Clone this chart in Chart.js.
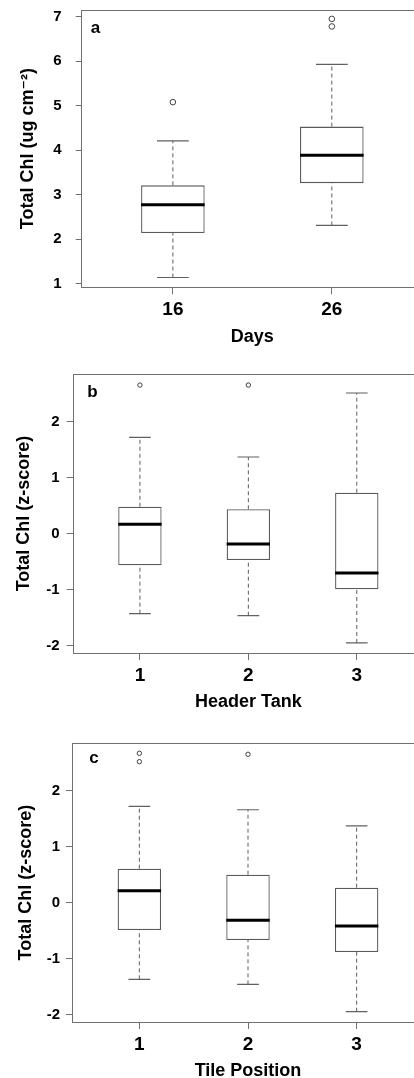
<!DOCTYPE html>
<html>
<head>
<meta charset="utf-8">
<script src="https://cdn.jsdelivr.net/npm/chart.js@4.4.1/dist/chart.umd.min.js"></script>
<style>
  html, body { margin: 0; padding: 0; background: #fff; overflow: hidden; width: 414px; height: 1078px; }
  .panel { position: absolute; left: 0; }
  canvas { display: block; }
</style>
</head>
<body>
<div class="panel" style="top:0px"><canvas id="chartDays" width="430" height="348"></canvas></div>
<div class="panel" style="top:360px"><canvas id="chartTank" width="430" height="354"></canvas></div>
<div class="panel" style="top:729px"><canvas id="chartTile" width="430" height="354"></canvas></div>
<script>
// ---- Panel a: total chlorophyll by day of sampling ----
const daysLabels   = ['16', '26'];
const daysLow      = [1.14, 2.31];
const daysQ1       = [2.14, 3.26];
const daysMedian   = [2.775, 3.885];
const daysQ3       = [3.21, 4.53];
const daysHigh     = [4.21, 5.93];
const daysOutliers = [[5.08], [6.78, 6.95]];
const daysYTicks   = [1, 2, 3, 4, 5, 6, 7];
const daysYRange   = [0.92, 7.15];

// ---- Panel b: z-scored total chlorophyll by header tank ----
const tankLabels   = ['1', '2', '3'];
const tankLow      = [-1.426, -1.462, -1.948];
const tankQ1       = [-0.563, -0.469, -0.991];
const tankMedian   = [0.167, -0.184, -0.70];
const tankQ3       = [0.48, 0.435, 0.731];
const tankHigh     = [1.718, 1.367, 2.508];
const tankOutliers = [[2.65], [2.65], []];
const tankYRange   = [-2.127, 2.847];

// ---- Panel c: z-scored total chlorophyll by tile position ----
const tileLabels   = ['1', '2', '3'];
const tileLow      = [-1.368, -1.457, -1.946];
const tileQ1       = [-0.4875, -0.666, -0.88];
const tileMedian   = [0.214, -0.314, -0.416];
const tileQ3       = [0.607, 0.5, 0.268];
const tileHigh     = [1.72, 1.66, 1.37];
const tileOutliers = [[2.668, 2.518], [2.65], []];
const tileYRange   = [-2.13, 2.846];

const zTicks = [-2, -1, 0, 1, 2];

const FONT = "'Liberation Sans', Arial, Helvetica, 'DejaVu Sans', sans-serif";
const FRAME = '#707070';
const BOX_HALF = 0.2;   // half box width in category units
const CAP_HALF = 0.1;   // half whisker-cap width

// Frame around the plotting region and the panel letter
const framePlugin = {
  id: 'panelFrame',
  afterDraw(chart, args, opts) {
    const { ctx, chartArea: a } = chart;
    ctx.save();
    ctx.strokeStyle = FRAME;
    ctx.lineWidth = 1;
    const l = Math.round(a.left) + 0.5, t = Math.round(a.top) + 0.5;
    const r = Math.round(a.right) + 0.5, b = Math.round(a.bottom) + 0.5;
    ctx.strokeRect(l, t, r - l, b - t);
    ctx.fillStyle = '#000';
    ctx.font = 'bold 17px ' + FONT;
    ctx.textAlign = 'left';
    ctx.textBaseline = 'alphabetic';
    ctx.fillText(opts.letter, a.left + opts.dx, a.top + opts.dy);
    ctx.restore();
  }
};

function buildBoxplot(canvasId, s, st) {
  const n = s.labels.length;
  const whiskers = [], caps = [], medians = [], boxes = [], outliers = [];
  for (let i = 0; i < n; i++) {
    const x = i + 1;
    whiskers.push({ x, y: s.low[i] }, { x, y: s.q1[i] }, { x, y: null },
                  { x, y: s.q3[i] }, { x, y: s.high[i] }, { x, y: null });
    caps.push({ x: x - CAP_HALF, y: s.low[i] }, { x: x + CAP_HALF, y: s.low[i] }, { x, y: null },
              { x: x - CAP_HALF, y: s.high[i] }, { x: x + CAP_HALF, y: s.high[i] }, { x, y: null });
    medians.push({ x: x - BOX_HALF, y: s.median[i] }, { x: x + BOX_HALF, y: s.median[i] }, { x, y: null });
    boxes.push({ x, y: [s.q1[i], s.q3[i]] });
    s.outliers[i].forEach(v => outliers.push({ x, y: v }));
  }

  const pad = 0.04 * n;  // 4% axis extension beyond the half-category margins
  const xMin = 0.5 - pad, xMax = n + 0.5 + pad;

  return new Chart(document.getElementById(canvasId), {
    type: 'bar',
    data: {
      datasets: [
        { type: 'line', data: whiskers, borderColor: '#5e5e5e', borderWidth: 1, borderDash: [4, 3],
          pointRadius: 0, fill: false, tension: 0, spanGaps: false, order: 4 },
        { type: 'bar', data: boxes, backgroundColor: '#ffffff', borderColor: '#5a5a5a', borderWidth: 1.3,
          borderSkipped: false, categoryPercentage: 0.8, barPercentage: 2 * BOX_HALF / 0.8, order: 3 },
        { type: 'line', data: caps, borderColor: '#606060', borderWidth: 1.2,
          pointRadius: 0, fill: false, tension: 0, spanGaps: false, order: 2 },
        { type: 'line', data: medians, borderColor: '#000000', borderWidth: 3, borderCapStyle: 'butt',
          pointRadius: 0, fill: false, tension: 0, spanGaps: false, order: 1 },
        { type: 'line', data: outliers, showLine: false, pointStyle: 'circle', pointRadius: st.outR,
          pointBorderColor: '#404040', pointBackgroundColor: 'rgba(0,0,0,0)', pointBorderWidth: 1, order: 0 }
      ]
    },
    options: {
      responsive: false,
      animation: false,
      events: [],
      layout: { padding: { top: st.padTop, right: 6, left: 0, bottom: 0 } },
      plugins: {
        legend: { display: false },
        tooltip: { enabled: false },
        panelFrame: { letter: st.letter, dx: st.letterAt[0], dy: st.letterAt[1] }
      },
      scales: {
        x: {
          type: 'linear', offset: false, min: xMin, max: xMax,
          afterBuildTicks: sc => { sc.ticks = s.labels.map((_, i) => ({ value: i + 1 })); },
          afterFit: sc => { sc.height = st.xHeight; sc.paddingLeft = 0; sc.paddingRight = 0; },
          ticks: {
            callback: v => s.labels[Math.round(v) - 1],
            color: '#000', padding: st.xTickPad, maxRotation: 0, autoSkip: false,
            font: { family: FONT, size: 19, weight: 'bold' }
          },
          grid: { display: true, offset: false, drawOnChartArea: false, drawTicks: true,
                  tickLength: 7, color: FRAME, lineWidth: 1 },
          border: { display: false },
          title: { display: true, text: st.xTitle, color: '#000',
                   font: { family: FONT, size: 18, weight: 'bold' },
                   padding: { top: 0, bottom: st.xTitlePad } }
        },
        y: {
          type: 'linear', min: s.yRange[0], max: s.yRange[1],
          afterBuildTicks: sc => { sc.ticks = s.yTicks.map(v => ({ value: v })); },
          afterFit: sc => { sc.width = st.yWidth; sc.paddingTop = 0; sc.paddingBottom = 0; },
          ticks: {
            callback: v => String(v),
            color: '#000', padding: st.yTickPad,
            font: { family: FONT, size: 15, weight: 'bold' }
          },
          grid: { display: true, drawOnChartArea: false, drawTicks: true,
                  tickLength: st.yTickLen, color: FRAME, lineWidth: 1 },
          border: { display: false },
          title: { display: true, text: st.yTitle, color: '#000',
                   font: { family: FONT, size: 18, weight: 'bold' },
                   padding: { top: st.yTitlePad, bottom: 0 } }
        }
      }
    },
    plugins: [framePlugin]
  });
}

buildBoxplot('chartDays',
  { labels: daysLabels, low: daysLow, q1: daysQ1, median: daysMedian, q3: daysQ3, high: daysHigh,
    outliers: daysOutliers, yTicks: daysYTicks, yRange: daysYRange },
  { padTop: 10, xHeight: 60.7, yWidth: 80.7, yTickLen: 5, yTickPad: 14, yTitlePad: 17,
    xTickPad: 4, xTitlePad: 0.4, xTitle: 'Days', yTitle: 'Total Chl (ug cm\u207B\u00B2)',
    letter: 'a', letterAt: [10, 22.7], outR: 2.8 });

buildBoxplot('chartTank',
  { labels: tankLabels, low: tankLow, q1: tankQ1, median: tankMedian, q3: tankQ3, high: tankHigh,
    outliers: tankOutliers, yTicks: zTicks, yRange: tankYRange },
  { padTop: 14, xHeight: 61, yWidth: 72.7, yTickLen: 6, yTickPad: 7, yTitlePad: 13.2,
    xTickPad: 4, xTitlePad: 0.7, xTitle: 'Header Tank', yTitle: 'Total Chl (z-score)',
    letter: 'b', letterAt: [14.6, 22.7], outR: 2.2 });

buildBoxplot('chartTile',
  { labels: tileLabels, low: tileLow, q1: tileQ1, median: tileMedian, q3: tileQ3, high: tileHigh,
    outliers: tileOutliers, yTicks: zTicks, yRange: tileYRange },
  { padTop: 14.3, xHeight: 61, yWidth: 72, yTickLen: 6, yTickPad: 6, yTitlePad: 14.9,
    xTickPad: 4, xTitlePad: 0.7, xTitle: 'Tile Position', yTitle: 'Total Chl (z-score)',
    letter: 'c', letterAt: [17.3, 20], outR: 2.2 });
</script>
</body>
</html>
